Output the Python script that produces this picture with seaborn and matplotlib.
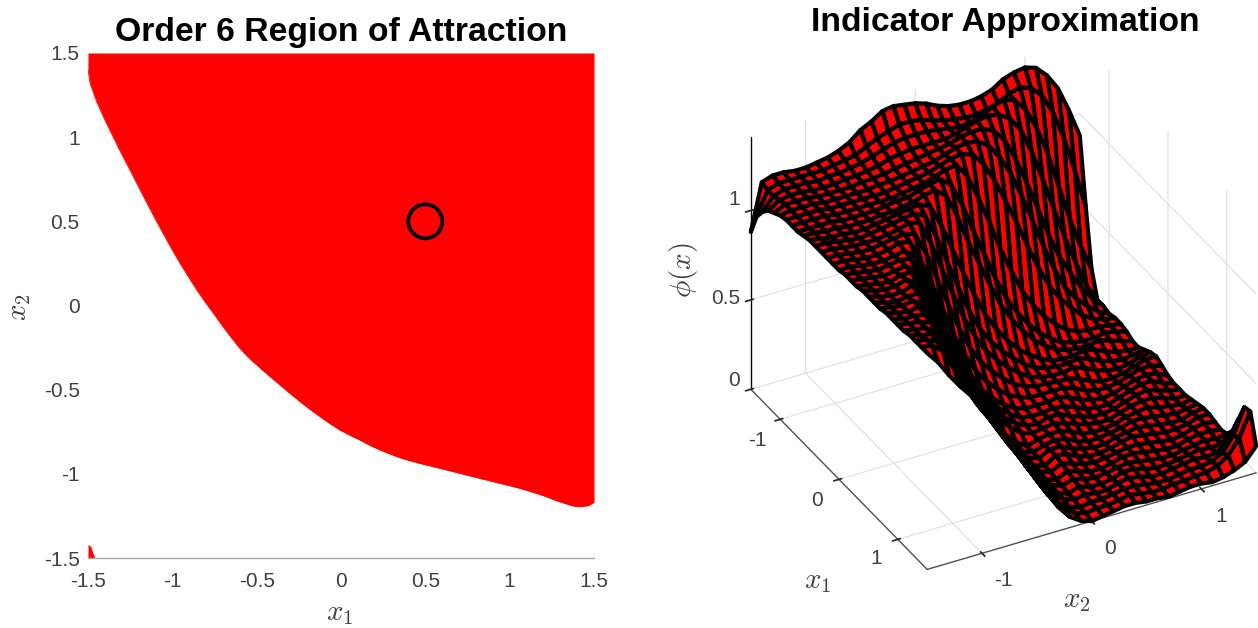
"""
plot.py
Region of attraction (left) and indicator approximation surface (right)
"""

import numpy as np
import matplotlib
matplotlib.use("Agg")
import matplotlib.pyplot as plt
import seaborn as sns

# region boundary
boundary_x1 = [-1.5, -1.488, -1.449, -1.4, -1.35, -1.301, -1.251, -1.201, -1.152, -1.103,
               -1.053, -1.004, -0.955, -0.905, -0.855, -0.806, -0.756, -0.707, -0.658, -0.608,
               -0.559, -0.519, -0.44, -0.362, -0.303, -0.243, -0.184, -0.125, -0.066, -0.006,
               0.053, 0.112, 0.172, 0.231, 0.29, 0.349, 0.409, 0.468, 0.587, 0.705,
               0.824, 0.942, 1.061, 1.14, 1.219, 1.278, 1.338, 1.377, 1.417, 1.466, 1.5]
boundary_x2 = [1.403, 1.32, 1.211, 1.102, 0.999, 0.9, 0.804, 0.706, 0.611, 0.516,
               0.425, 0.336, 0.251, 0.171, 0.092, 0.021, -0.047, -0.116, -0.181, -0.245,
               -0.298, -0.336, -0.406, -0.472, -0.522, -0.571, -0.617, -0.66, -0.702, -0.74,
               -0.771, -0.799, -0.831, -0.858, -0.882, -0.904, -0.922, -0.938, -0.967, -0.997,
               -1.027, -1.056, -1.086, -1.11, -1.136, -1.16, -1.179, -1.191, -1.195, -1.189, -1.169]

# little patch in the lower left corner
corner_x1 = [-1.5, -1.485, -1.46]
corner_x2 = [-1.42, -1.43, -1.5]

marker_x1 = [0.5]
marker_x2 = [0.5]

ticks_2d = [-1.5, -1, -0.5, 0, 0.5, 1, 1.5]
tick_labels_2d = ["-1.5", "-1", "-0.5", "0", "0.5", "1", "1.5"]

# surface heights, one row per x1 (-1.5 ... 1.5), one column per x2 (-1.5 ... 1.5)
phi_rows = [
    [.88, 1.14, 1.16, 1.16, 1.15, 1.15, 1.16, 1.17, 1.19, 1.22, 1.27, 1.30, 1.34, 1.35, 1.34, 1.33, 1.31, 1.28, 1.26, 1.25, 1.25, 1.26, 1.28, 1.32, 1.34, 1.35, 1.33, 1.27, 1.18, 1.04, .88],
    [1.00, 1.13, 1.15, 1.15, 1.15, 1.15, 1.15, 1.16, 1.17, 1.18, 1.21, 1.24, 1.26, 1.28, 1.28, 1.27, 1.25, 1.23, 1.22, 1.21, 1.21, 1.22, 1.24, 1.27, 1.29, 1.27, 1.21, 1.10, .94, .74, .52],
    [1.06, 1.13, 1.15, 1.15, 1.15, 1.14, 1.15, 1.15, 1.16, 1.17, 1.19, 1.21, 1.23, 1.24, 1.24, 1.24, 1.23, 1.22, 1.21, 1.22, 1.24, 1.27, 1.29, 1.27, 1.20, 1.08, .92, .72, .52, .35, .20],
    [1.10, 1.14, 1.15, 1.15, 1.14, 1.14, 1.14, 1.15, 1.15, 1.16, 1.17, 1.19, 1.20, 1.21, 1.21, 1.21, 1.21, 1.22, 1.24, 1.26, 1.27, 1.26, 1.22, 1.14, 1.00, .83, .65, .47, .31, .16, .06],
    [1.12, 1.15, 1.15, 1.15, 1.14, 1.14, 1.14, 1.14, 1.15, 1.15, 1.16, 1.17, 1.18, 1.19, 1.20, 1.21, 1.22, 1.24, 1.25, 1.25, 1.22, 1.15, 1.03, .88, .72, .55, .41, .30, .20, .12, .06],
    [1.14, 1.15, 1.15, 1.15, 1.14, 1.14, 1.14, 1.14, 1.14, 1.15, 1.15, 1.16, 1.17, 1.18, 1.19, 1.21, 1.23, 1.24, 1.23, 1.19, 1.11, 1.00, .86, .70, .54, .39, .27, .19, .13, .08, .05],
    [1.15, 1.15, 1.15, 1.15, 1.14, 1.14, 1.14, 1.14, 1.14, 1.14, 1.15, 1.16, 1.17, 1.18, 1.20, 1.22, 1.23, 1.21, 1.14, 1.03, .90, .76, .61, .47, .35, .26, .19, .13, .09, .07, .06],
    [1.15, 1.15, 1.15, 1.15, 1.14, 1.14, 1.14, 1.14, 1.14, 1.14, 1.15, 1.16, 1.17, 1.19, 1.21, 1.22, 1.14, 1.00, .85, .68, .54, .41, .31, .23, .17, .12, .09, .08, .08, .07, .06],
    [1.15, 1.15, 1.15, 1.15, 1.14, 1.14, 1.14, 1.14, 1.15, 1.16, 1.16, 1.18, 1.20, 1.21, 1.16, 1.03, .87, .72, .57, .44, .34, .26, .19, .14, .10, .08, .07, .07, .08, .07, .05],
    [1.16, 1.16, 1.15, 1.15, 1.14, 1.14, 1.14, 1.15, 1.15, 1.16, 1.17, 1.19, 1.20, 1.15, 1.02, .86, .72, .58, .45, .35, .27, .20, .15, .11, .09, .08, .08, .09, .07, .05, .03],
    [1.17, 1.16, 1.15, 1.15, 1.14, 1.14, 1.15, 1.16, 1.17, 1.18, 1.19, 1.16, 1.04, .89, .74, .60, .47, .37, .29, .22, .17, .13, .10, .09, .09, .10, .09, .06, .04, .03, .03],
    [1.17, 1.17, 1.16, 1.15, 1.14, 1.15, 1.16, 1.17, 1.18, 1.19, 1.16, 1.03, .87, .71, .56, .44, .35, .28, .22, .17, .13, .11, .10, .10, .11, .09, .06, .04, .03, .04, .05],
    [1.17, 1.17, 1.16, 1.15, 1.15, 1.15, 1.16, 1.17, 1.19, 1.17, 1.04, .88, .72, .57, .45, .35, .28, .22, .17, .13, .11, .10, .10, .11, .09, .06, .04, .03, .04, .06, .07],
    [1.17, 1.17, 1.16, 1.15, 1.15, 1.16, 1.17, 1.18, 1.16, 1.04, .88, .72, .57, .44, .34, .27, .21, .16, .13, .11, .11, .10, .10, .08, .05, .03, .03, .04, .06, .08, .08],
    [1.17, 1.17, 1.16, 1.15, 1.15, 1.16, 1.18, 1.17, 1.05, .90, .74, .58, .45, .34, .26, .20, .15, .12, .10, .10, .10, .10, .08, .05, .03, .03, .04, .06, .08, .08, .06],
    [1.17, 1.17, 1.16, 1.15, 1.15, 1.16, 1.17, 1.12, .98, .82, .65, .50, .37, .27, .20, .15, .11, .09, .09, .09, .10, .08, .05, .03, .02, .03, .05, .07, .08, .07, .04],
    [1.18, 1.17, 1.16, 1.15, 1.16, 1.17, 1.16, 1.04, .90, .76, .61, .46, .35, .25, .18, .13, .09, .08, .08, .09, .08, .06, .03, .02, .02, .04, .06, .08, .08, .05, .03],
    [1.18, 1.17, 1.16, 1.15, 1.16, 1.17, 1.12, .98, .84, .71, .57, .43, .32, .23, .16, .11, .08, .07, .09, .09, .06, .04, .02, .02, .03, .05, .07, .08, .06, .04, .03],
    [1.18, 1.17, 1.16, 1.15, 1.17, 1.17, 1.04, .91, .79, .66, .53, .40, .29, .20, .14, .09, .07, .08, .09, .07, .05, .03, .02, .02, .04, .06, .07, .07, .05, .03, .03],
    [1.19, 1.17, 1.16, 1.16, 1.18, 1.14, .98, .85, .73, .61, .48, .36, .25, .15, .09, .05, .07, .08, .08, .06, .03, .02, .02, .03, .05, .06, .07, .05, .04, .03, .04],
    [1.19, 1.17, 1.16, 1.16, 1.18, 1.07, .93, .80, .68, .56, .44, .32, .22, .13, .07, .05, .07, .08, .07, .04, .02, .02, .03, .04, .06, .06, .05, .04, .03, .04, .05],
    [1.19, 1.17, 1.16, 1.17, 1.17, 1.02, .89, .77, .65, .54, .42, .31, .21, .12, .07, .05, .08, .08, .05, .03, .02, .02, .04, .05, .06, .05, .04, .03, .03, .05, .06],
    [1.19, 1.18, 1.17, 1.18, 1.14, .98, .86, .74, .63, .52, .41, .30, .20, .12, .06, .04, .08, .07, .04, .02, .02, .03, .05, .06, .05, .04, .03, .03, .04, .06, .06],
    [1.20, 1.18, 1.17, 1.18, 1.11, .95, .84, .72, .61, .50, .40, .29, .19, .11, .06, .04, .07, .05, .03, .02, .03, .04, .05, .05, .04, .03, .02, .03, .05, .06, .05],
    [1.20, 1.18, 1.18, 1.17, 1.06, .92, .81, .70, .59, .49, .39, .28, .18, .11, .05, .03, .06, .04, .02, .02, .03, .05, .05, .04, .03, .02, .02, .04, .05, .05, .04],
    [1.20, 1.19, 1.18, 1.16, 1.02, .90, .79, .68, .57, .47, .37, .27, .17, .10, .05, .03, .05, .03, .02, .03, .04, .05, .04, .03, .02, .02, .03, .04, .05, .04, .05],
    [1.20, 1.19, 1.18, 1.14, .98, .87, .77, .66, .55, .45, .36, .26, .16, .09, .04, .02, .04, .02, .02, .03, .05, .05, .03, .02, .02, .03, .04, .05, .04, .05, .10],
    [1.21, 1.19, 1.18, 1.12, .96, .85, .75, .65, .54, .44, .35, .25, .15, .08, .04, .02, .03, .02, .02, .04, .05, .04, .02, .02, .03, .04, .05, .04, .05, .09, .20],
    [1.21, 1.20, 1.17, 1.08, .93, .83, .74, .64, .54, .44, .34, .24, .15, .07, .03, .01, .02, .02, .03, .04, .04, .03, .02, .02, .03, .04, .04, .05, .08, .16, .30],
    [1.21, 1.20, 1.15, 1.03, .92, .81, .72, .63, .53, .43, .33, .23, .14, .07, .03, .01, .02, .02, .03, .04, .03, .02, .02, .03, .03, .04, .04, .06, .10, .18, .31],
    [1.21, 1.14, 1.05, .97, .90, .80, .71, .62, .53, .43, .32, .22, .13, .06, .02, .00, .01, .02, .03, .03, .02, .02, .01, .02, .03, .03, .02, .03, .05, .08, .15],
]

ticks_3d = [-1, 0, 1]
tick_labels_3d = ["-1", "0", "1"]
ticks_z = [0, 0.5, 1]
tick_labels_z = ["0", "0.5", "1"]

TICK_COLOR = "#404040"
TICK_SIZE = 15
MATH_SIZE = 21
W, H = 1258, 628


def put_text(px, py, s, **kw):
    # place a label by its pixel position in the 1258x628 figure
    kw.setdefault("ha", "center")
    kw.setdefault("va", "center")
    fig.text(px / W, 1 - py / H, s, **kw)


sns.set_theme(style="white", font="Liberation Sans")
plt.rcParams["mathtext.fontset"] = "cm"
plt.rcParams["grid.color"] = "#dedede"
plt.rcParams["grid.linewidth"] = 0.8

fig = plt.figure(figsize=(W / 100, H / 100), dpi=100)

# ─────────────────────────────────────────────
# Left panel
# ─────────────────────────────────────────────
ax = fig.add_axes([88 / W, 70 / H, 506 / W, 505 / H])
ax.fill_between(boundary_x1, boundary_x2, 1.5, color="red", linewidth=0)
ax.fill_between(corner_x1, corner_x2, -1.5, color="red", linewidth=0)
sns.lineplot(x=boundary_x1, y=boundary_x2, color="red", linewidth=0.6, sort=False, ax=ax)
sns.scatterplot(x=marker_x1, y=marker_x2, s=600, facecolor="none", edgecolor="black",
                linewidth=2.7, ax=ax, zorder=5)
ax.set_xlim(-1.5, 1.5)
ax.set_ylim(-1.5, 1.5)
ax.set_xticks(ticks_2d, tick_labels_2d)
ax.set_yticks(ticks_2d, tick_labels_2d)
ax.tick_params(axis="x", labelsize=TICK_SIZE, colors=TICK_COLOR, length=0, pad=10)
ax.tick_params(axis="y", labelsize=TICK_SIZE, colors=TICK_COLOR, length=0, pad=6)
for side in ["top", "right", "left"]:
    ax.spines[side].set_visible(False)
ax.spines["bottom"].set_color("#a8a8a8")
ax.spines["bottom"].set_linewidth(1.0)
put_text(340, 613, "$x_1$", fontsize=MATH_SIZE, color=TICK_COLOR)
put_text(19, 307, "$x_2$", fontsize=MATH_SIZE, color=TICK_COLOR, rotation=90)
put_text(341, 32, "Order 6 Region of Attraction", fontsize=24.3, fontweight="bold", color="black")

# ─────────────────────────────────────────────
# Right panel
# ─────────────────────────────────────────────
grid = np.linspace(-1.5, 1.5, len(phi_rows))
X1, X2 = np.meshgrid(grid, grid, indexing="ij")
Z = np.array(phi_rows)

ax3 = fig.add_axes([700.5 / W, 20 / H, 590 / W, 590 / H], projection="3d", proj_type="ortho")
ax3.set_facecolor("none")
ax3.view_init(elev=33.2, azim=-28.2)
ax3.set_box_aspect((373, 373, 301))
ax3.plot_surface(X1, X2, Z, rstride=1, cstride=1, color="red", shade=False,
                 edgecolor="black", linewidth=3.0)
ax3.set_xlim(-1.5, 1.5, view_margin=0)
ax3.set_ylim(-1.5, 1.5, view_margin=0)
ax3.set_zlim(0, 1.41, view_margin=0)
ax3.set_xticks(ticks_3d, ["", "", ""])
ax3.set_yticks(ticks_3d, ["", "", ""])
ax3.set_zticks(ticks_z, ["", "", ""])

for axis in [ax3.xaxis, ax3.yaxis, ax3.zaxis]:
    axis.set_pane_color((1, 1, 1, 0))
    axis.pane.set_edgecolor((1, 1, 1, 0))
    axis.line.set_linewidth(1.0)
    axis.line.set_color("#505050")
ax3.zaxis.line.set_color("black")
ax3.zaxis.set_ticks_position("lower")

for (px, py), label in zip([(757, 440), (817, 500), (876, 558)], tick_labels_3d):
    put_text(px, py, label, fontsize=TICK_SIZE, color=TICK_COLOR)
for (px, py), label in zip([(1003, 580), (1110, 548), (1221, 516)], tick_labels_3d):
    put_text(px, py, label, fontsize=TICK_SIZE, color=TICK_COLOR)
for (px, py), label in zip([(740, 381), (740, 298), (740, 200)], tick_labels_z):
    put_text(px, py, label, fontsize=TICK_SIZE, color=TICK_COLOR, ha="right")

put_text(818, 581, "$x_1$", fontsize=MATH_SIZE, color=TICK_COLOR)
put_text(1077, 600, "$x_2$", fontsize=MATH_SIZE, color=TICK_COLOR)
put_text(683, 270, r"$\phi(x)$", fontsize=MATH_SIZE, color=TICK_COLOR, rotation=90)
put_text(1005, 23, "Indicator Approximation", fontsize=24.3, fontweight="bold", color="black")

fig.savefig("out.png", dpi=100)
